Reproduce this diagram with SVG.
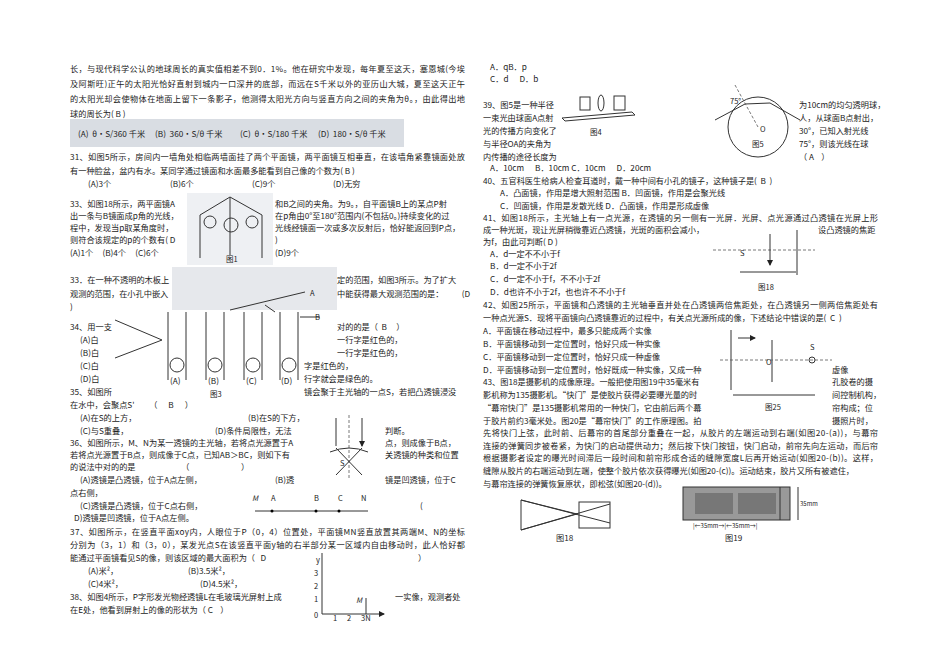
<svg xmlns="http://www.w3.org/2000/svg" width="950" height="672" viewBox="0 0 950 672" xml:space="preserve">
<style>
text{font-family:"Noto Sans CJK SC","Liberation Serif",sans-serif;font-size:8.2px;fill:#222;white-space:pre}
.s{font-size:7.5px}
.t{font-size:6px}
.ln{stroke:#333;stroke-width:1;fill:none}
.d{stroke:#555;stroke-width:0.8;stroke-dasharray:3,2;fill:none}
</style>
<defs><marker id="ar" markerWidth="6" markerHeight="6" refX="5" refY="3" orient="auto"><path d="M0,0L6,3L0,6z" fill="#222"/></marker></defs>
<rect width="950" height="672" fill="#fff"/>
<g id="left">
<text x="70" y="72" textLength="395">长，与现代科学公认的地球周长的真实值相差不到0．1%。他在研究中发现，每年夏至这天，塞恩城(今埃</text>
<text x="70" y="87" textLength="395">及阿斯旺)正午的太阳光恰好直射到城内一口深井的底部，而远在S千米以外的亚历山大城，夏至这天正午</text>
<text x="70" y="102" textLength="395">的太阳光却会使物体在地面上留下一条影子，他测得太阳光方向与竖直方向之间的夹角为θ。，由此得出地</text>
<text x="70" y="117">球的周长为( B )</text>
<rect x="70" y="119" width="334" height="28" fill="#d9dde3"/>
<text x="78" y="137">(A)  θ·S/360 千米</text><text x="155" y="137">(B)  360·S/θ 千米</text><text x="240" y="137">(C)  θ·S/180 千米</text><text x="318" y="137">(D)  180·S/θ 千米</text>
<text x="70" y="160" textLength="395">31、如图5所示，房间内一墙角处相临两墙面挂了两个平面镜，两平面镜互相垂直，在该墙角紧靠镜面处放</text>
<text x="70" y="174">有一种脸盆，盆内有水。某同学通过镜面和水面最多能看到自己像的个数为( B )</text>
<text x="88" y="187">(A)3个</text><text x="170" y="187">(B)6个</text><text x="252" y="187">(C)9个</text><text x="333" y="187">(D)无穷</text>
<g id="fig1"><rect x="187" y="193" width="86" height="72" fill="#eef0f3"/><path class="ln" d="M230,197L230,255M230,197L200,215L200,258M230,197L262,215L262,258"/><circle cx="231" cy="225" r="7" class="ln"/><circle cx="210" cy="222" r="6" class="ln"/><circle cx="252" cy="222" r="6" class="ln"/><text x="226" y="262" class="s">图1</text></g>
<text x="70" y="207">33、如图18所示，两平面镜A</text><text x="275" y="207">和B之间的夹角。为9。，自平面镜B上的某点P射</text>
<text x="70" y="219">出一条与B镜面成p角的光线，</text><text x="275" y="219">在p角由0°至180°范围内(不包括0。)持续变化的过</text>
<text x="70" y="231">程中，发现当p取某角度时，</text><text x="275" y="231">光线经镜面一次或多次反射后，恰好能返回到P点，</text>
<text x="70" y="243">则符合该规定的p的个数有( D</text><text x="275" y="243">)</text>
<text x="70" y="256">(A)1个     (B)4个     (C)6个</text><text x="275" y="256">(D)9个</text>
<g id="fig3a"><rect x="172" y="267" width="165" height="43" fill="#e6e8ec"/><path class="ln" d="M230,310L305,292"/><path class="ln" d="M265,305L275,312M300,317L320,317"/><text x="310" y="296" class="s">A</text><text x="315" y="320" class="s">B</text></g>
<text x="70" y="283">33．在一种不透明的木板上</text><text x="337" y="283">定的范围，如图3所示。为了扩大</text>
<text x="70" y="297">观测的范围，在小孔中嵌入</text><text x="337" y="297">中能获得最大观测范围的是：          (D</text>
<text x="70" y="310">)</text>
<g id="fig3"><path class="ln" d="M115,320L162,340L115,358M168,312L168,380M186,312L186,380M206,312L206,380M224,312L224,380M244,312L244,380M262,312L262,380M280,312L280,380M298,312L298,380"/><circle cx="177" cy="365" r="7" class="ln"/><circle cx="215" cy="365" r="7" class="ln"/><circle cx="253" cy="365" r="7" class="ln"/><circle cx="289" cy="365" r="7" class="ln"/><text x="170" y="384">(A)</text><text x="208" y="384">(B)</text><text x="246" y="384">(C)</text><text x="281" y="384">(D)</text><text x="210" y="397" class="s">图3</text></g>
<text x="70" y="330">34、用一支</text><text x="337" y="330">对的的是（  B     ）</text>
<text x="80" y="343">(A)白</text><text x="337" y="343">一行字是红色的，</text>
<text x="80" y="356">(B)白</text><text x="337" y="356">一行字是红色的，</text>
<text x="80" y="369">(C)白</text><text x="304" y="369">字是红色的，</text>
<text x="80" y="382">(D)白</text><text x="304" y="382">行字就会是绿色的。</text>
<text x="70" y="395">35、如图所</text><text x="304" y="395">镜会聚于主光轴的一点S，若把凸透镜浸没</text>
<text x="70" y="408">在水中，会聚点S'        （      B      ）</text>
<text x="80" y="421">(A)在S的上方，</text><text x="248" y="421">(B)在S的下方，</text>
<text x="80" y="434">(C)与S重叠，</text><text x="215" y="434">(D)条件局限性，无法</text><text x="385" y="434">判断。</text>
<g id="fig35"><path class="ln" d="M336,418L336,446M362,418L362,446" marker-end="url(#ar)"/><path class="d" d="M349,415L349,478"/><path class="ln" d="M330,452Q349,444 368,452M336,448L362,475M362,448L336,475"/><text x="340" y="466" class="s">S</text></g>
<text x="70" y="446">36、如图所示，M、N为某一透镜的主光轴，若将点光源置于A</text><text x="385" y="446">点，则成像于B点，</text>
<text x="70" y="458">若将点光源置于B点，则成像于C点，已知AB＞BC，则如下有</text><text x="385" y="458">关透镜的种类和位置</text>
<text x="70" y="470">的说法中对的的是                         （                            ）</text>
<text x="80" y="483">(A)透镜是凸透镜，位于A点左侧，</text><text x="275" y="483">(B)透</text><text x="385" y="483">镜是凹透镜，位于C</text>
<text x="70" y="496">点右侧，</text>
<text x="80" y="509">(C)透镜是凸透镜，位于C点右侧，</text><text x="420" y="509">(</text>
<g id="figMN"><path class="ln" d="M255,511L368,511" stroke-width="0.6"/><circle cx="272" cy="511" r="1.5"/><circle cx="316" cy="511" r="1.5"/><circle cx="339" cy="511" r="1.5"/><text x="252" y="501" class="s" font-style="italic">M</text><text x="271" y="501" class="s">A</text><text x="314" y="501" class="s">B</text><text x="338" y="501" class="s">C</text><text x="361" y="501" class="s">N</text></g>
<text x="74" y="521">D)透镜是凹透镜，位于A点左侧。</text>
<text x="70" y="535" textLength="395">37、如图所示，在竖直平面xoy内，人眼位于P（0，4）位置处，平面镜MN竖直放置其两端M、N的坐标</text>
<text x="70" y="548" textLength="395">分别为（3，1）和（3，0），某发光点S在该竖直平面y轴的右半部分某一区域内自由移动时，此人恰好都</text>
<text x="70" y="561">能通过平面镜看见S的像，则该区域的最大面积为（   D</text><text x="418" y="561">）</text>
<text x="88" y="574">(A)米²，</text><text x="188" y="574">(B)3.5米²，</text>
<text x="88" y="587">(C)4米²，</text><text x="200" y="587">(D)4.5米²，</text>
<g id="figxy"><path class="ln" d="M322,614L322,553M322,614L384,614" marker-end="url(#ar)" stroke-width="0.8"/><path class="ln" d="M366,598L366,614" stroke-width="0.6"/><text x="316" y="563" class="s">y</text><text x="314" y="576" class="s">3</text><text x="314" y="589" class="s">2</text><text x="314" y="602" class="s">1</text><text x="314" y="618" class="s">0</text><text x="333" y="621" class="s">1</text><text x="347" y="621" class="s">2</text><text x="361" y="621" class="s">3N</text><text x="356" y="603" class="s" font-style="italic">M</text></g>
<text x="70" y="600">38、如图4所示，P字形发光物经透镜L在毛玻璃光屏射上成</text><text x="395" y="600">一实像，观测者处</text>
<text x="70" y="613">在E处，他看到屏射上的像的形状为（ C    ）</text>
</g>
<g id="right">
<text x="490" y="70">A．qB．p</text>
<text x="490" y="82">C．d      D．b</text>
<g id="fig4"><path class="ln" d="M562,118L632,112L635,115L565,121z"/><rect x="580" y="97" width="10" height="13" class="ln"/><ellipse cx="601" cy="103" rx="3" ry="8" class="ln"/><rect x="614" y="96" width="11" height="14" class="ln"/><text x="590" y="135" class="s">图4</text></g>
<text x="483" y="108">39、图5是一种半径</text><text x="799" y="108">为10cm的均匀透明球，</text>
<text x="483" y="121">一束光由球面A点射</text><text x="799" y="121">人，从球面B点射出，</text>
<text x="483" y="134">光的传播方向变化了</text><text x="799" y="134">30°，已知入射光线</text>
<text x="483" y="147">与半径OA的夹角为</text><text x="799" y="147">75°，则该光线在球</text>
<text x="483" y="160">内传播的途径长度为</text><text x="799" y="160">（ A    ）</text>
<g id="fig5"><circle cx="758" cy="127" r="30" class="ln"/><path class="ln" d="M715,120L745,104L770,103L800,120"/><path class="d" d="M735,85L758,127"/><text x="730" y="104" class="s">75°</text><text x="760" y="132" class="s">O</text><text x="752" y="147" class="s">图5</text></g>
<text x="490" y="171">A．10cm      B．10cm C．10cm      D．20cm</text>
<text x="483" y="184">40、五官科医生给病人检查耳道时，戴一种中间有小孔的镜子，这种镜子是(  B  )</text>
<text x="500" y="196">A．凸面镜，作用是增大照射范围 B．凹面镜，作用是会聚光线</text>
<text x="500" y="209">C．凹面镜，作用是发散光线 D．凸面镜，作用是形成虚像</text>
<text x="483" y="221" textLength="395">41、如图18所示，主光轴上有一点光源，在透镜的另一侧有一光屏．光屏、点光源通过凸透镜在光屏上形</text>
<text x="483" y="233">成一种光斑，现让光屏稍微靠近凸透镜，光斑的面积会减小，</text><text x="818" y="233">设凸透镜的焦距</text>
<text x="483" y="245">为f，由此可判断( D )</text>
<g id="fig18b"><path class="d" d="M713,250L815,250"/><path class="ln" d="M770,234L770,265" marker-end="url(#ar)"/><path class="ln" d="M797,230L797,275M740,272L796,272"/><text x="740" y="256" class="s">S</text><text x="758" y="290" class="s">图18</text></g>
<text x="490" y="257">A．d一定不不小于f</text>
<text x="490" y="269">B．d一定不小于2f</text>
<text x="490" y="282">C．d一定不小于f，不不小于2f</text>
<text x="490" y="295">D．d也许不小于2f，也也许不不小于f</text>
<text x="483" y="308" textLength="395">42、如图25所示，平面镜和凸透镜的主光轴垂直并处在凸透镜两倍焦距处，在凸透镜另一侧两倍焦距处有</text>
<text x="483" y="321">一种点光源S．现将平面镜向凸透镜靠近的过程中，有关点光源所成的像，下述结论中错误的是(  C  )</text>
<text x="483" y="334">A．平面镜在移动过程中，最多只能成两个实像</text>
<text x="483" y="347">B．平面镜移动到一定位置时，恰好只成一种实像</text>
<text x="483" y="360">C．平面镜移动到一定位置时，恰好只成一种虚像</text>
<text x="483" y="373">D．平面镜移动到一定位置时，恰好既成一种实像，又成一种</text><text x="832" y="373">虚像</text>
<g id="fig25"><path class="ln" d="M731,330L731,390" stroke-width="2"/><path class="ln" d="M738,338L755,338" marker-end="url(#ar)"/><path class="ln" d="M772,340L772,382"/><path class="d" d="M720,360L832,360"/><circle cx="812" cy="360" r="3" class="ln"/><path class="ln" d="M733,395L815,395"/><text x="765" y="410" class="s">图25</text><text x="766" y="365" class="s">O</text><text x="810" y="350" class="s">S</text></g>
<text x="483" y="385">43、图18是摄影机的成像原理。一般把使用图19中35毫米有</text><text x="832" y="385">孔胶卷的摄</text>
<text x="483" y="398">影机称为135摄影机。“快门”是使胶片获得必要曝光量的时</text><text x="832" y="398">间控制机构，</text>
<text x="483" y="411">“幕帘快门”是135摄影机常用的一种快门，它由前后两个幕</text><text x="832" y="411">帘构成；位</text>
<text x="483" y="424">于胶片前约3毫米处。图20是“幕帘快门”的工作原理图。拍</text><text x="832" y="424">摄照片时，</text>
<text x="483" y="436" textLength="395">先将快门上弦，此时前、后幕帘的首尾部分重叠在一起，从胶片的左端运动到右端(如图20-(a))，与幕帘</text>
<text x="483" y="449" textLength="395">连接的弹簧同步被卷紧，为快门的启动提供动力；然后按下快门按钮，快门启动，前帘先向左运动，而后帘</text>
<text x="483" y="461" textLength="395">根据摄影者设定的曝光时间滞后一段时间和前帘形成合适的缝隙宽度L后再开始运动(如图20-(b))。这样，</text>
<text x="483" y="474">缝隙从胶片的右端运动到左端，使整个胶片依次获得曝光(如图20-(c))。运动结束，胶片又所有被遮住，</text>
<text x="483" y="487">与幕帘连接的弹簧恢复原状，即松弦(如图20-(d))。</text>
<g id="fig18"><path class="ln" d="M521,500L521,530L577,514zM521,500L610,523M521,530L610,504"/><rect x="579" y="502" width="31" height="26" class="ln"/><text x="556" y="541">图18</text></g>
<g id="fig19"><rect x="683" y="487" width="107" height="33" fill="#999" stroke="#333"/><rect x="695" y="493" width="38" height="21" fill="#777"/><rect x="738" y="493" width="38" height="21" fill="#777"/><path class="ln" d="M780,487L780,520M798,487L798,520"/><text x="800" y="506" class="t">35mm</text><text x="693" y="528" class="t">|←35mm→|←35mm→|</text><text x="725" y="541">图19</text></g>
</g>
</svg>
